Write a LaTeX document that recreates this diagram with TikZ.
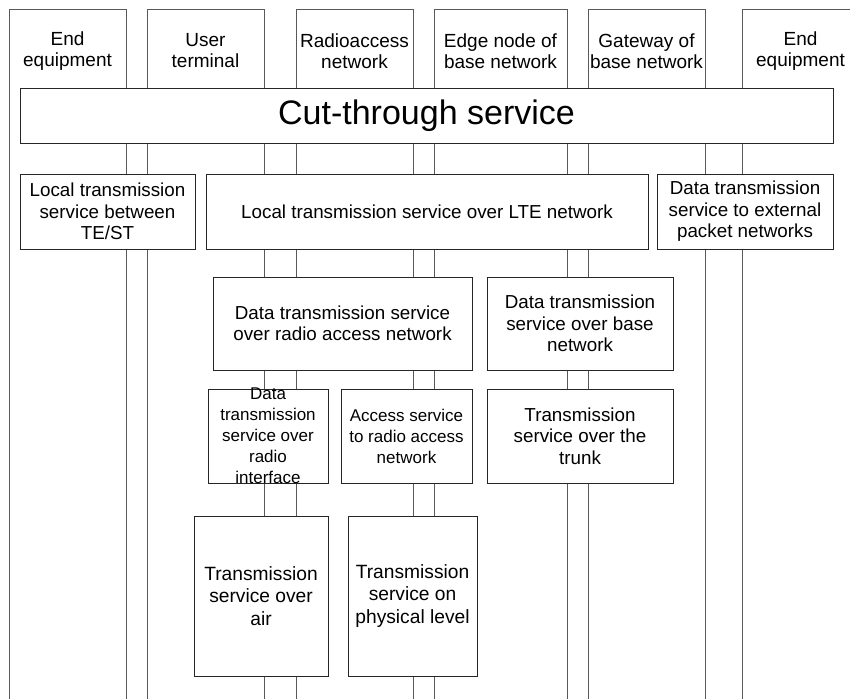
\documentclass[tikz,border=0pt]{standalone}
\usepackage{fontspec}
\setmainfont{Liberation Sans}
\begin{document}
\begin{tikzpicture}[x=1pt,y=-1pt,
  colbox/.style={draw=black!65, line width=1pt, rectangle, inner sep=0pt, minimum height=720pt, anchor=north west},
  box/.style={draw=black!85, fill=white, line width=1pt, rectangle, inner sep=0pt},
  hdr/.style={font=\fontsize{19}{21}\selectfont, align=center, inner sep=0pt},
  txt/.style={font=\fontsize{18.8}{21.5}\selectfont, align=center, inner sep=0pt},
  bigtxt/.style={font=\fontsize{19.2}{22.5}\selectfont, align=center, inner sep=0pt},
  smalltxt/.style={font=\fontsize{17}{21}\selectfont, align=center, inner sep=0pt}
]
\useasboundingbox (0,0) rectangle (850,698);
\clip (0,0) rectangle (850,698);
% columns
\node[colbox, minimum width=117pt] (c1) at (9,9) {};
\node[colbox, minimum width=117pt] (c2) at (147,9) {};
\node[colbox, minimum width=117pt] (c3) at (296,9) {};
\node[colbox, minimum width=133pt] (c4) at (434,9) {};
\node[colbox, minimum width=117pt] (c5) at (588,9) {};
\node[colbox, minimum width=117pt] (c6) at (742,9) {};
% headers
\node[hdr] (h1) at (67.5,51) {End\\equipment};
\node[hdr] (h2) at (205.5,51) {User\\terminal};
\node[hdr] (h3) at (354.5,51) {Radioaccess\\network};
\node[hdr] (h4) at (500.5,51) {Edge node of\\base network};
\node[hdr] (h5) at (646.5,51) {Gateway of\\base network};
\node[hdr] (h6) at (800.5,51) {End\\equipment};
% boxes
\node[box, minimum width=813pt, minimum height=54pt] (cut) at (426.5,116) {};
\node[font=\fontsize{34}{40}\selectfont, inner sep=0pt] (cutt) at (cut.center) {Cut-through service};
\node[box, minimum width=175pt, minimum height=75pt] (tes) at (107.5,211.5) {};
\node[txt] (test) at (tes.center) {Local transmission\\service between\\TE/ST};
\node[box, minimum width=442pt, minimum height=75pt] (lte) at (427,211.5) {};
\node[txt] (ltet) at (lte.center) {Local transmission service over LTE network};
\node[box, minimum width=176pt, minimum height=75pt] (ext) at (745,211.5) {};
\node[txt] (extt) at (ext.center) {Data transmission\\service to external\\packet networks};
\node[box, minimum width=259pt, minimum height=93pt] (ran) at (342.5,323.5) {};
\node[txt] (rant) at (ran.center) {Data transmission service\\over radio access network};
\node[box, minimum width=186pt, minimum height=93pt] (base) at (580,323.5) {};
\node[txt] (baset) at (base.center) {Data transmission\\service over base\\network};
\node[box, minimum width=120pt, minimum height=94pt] (rif) at (268,436) {};
\node[smalltxt] (rift) at (rif.center) {Data\\transmission\\service over\\radio\\interface};
\node[box, minimum width=131pt, minimum height=94pt] (acc) at (406.5,436) {};
\node[smalltxt] (acct) at (acc.center) {Access service\\to radio access\\network};
\node[box, minimum width=186pt, minimum height=94pt] (trunk) at (580,436) {};
\node[txt] (trunkt) at (trunk.center) {Transmission\\service over the\\trunk};
\node[box, minimum width=134pt, minimum height=160pt] (air) at (261,596) {};
\node[bigtxt] (airt) at (air.center) {Transmission\\service over\\air};
\node[box, minimum width=129pt, minimum height=160pt] (phys) at (412.5,596) {};
\node[bigtxt] (physt) at (phys.center) {Transmission\\service on\\physical level};
\end{tikzpicture}
\end{document}
